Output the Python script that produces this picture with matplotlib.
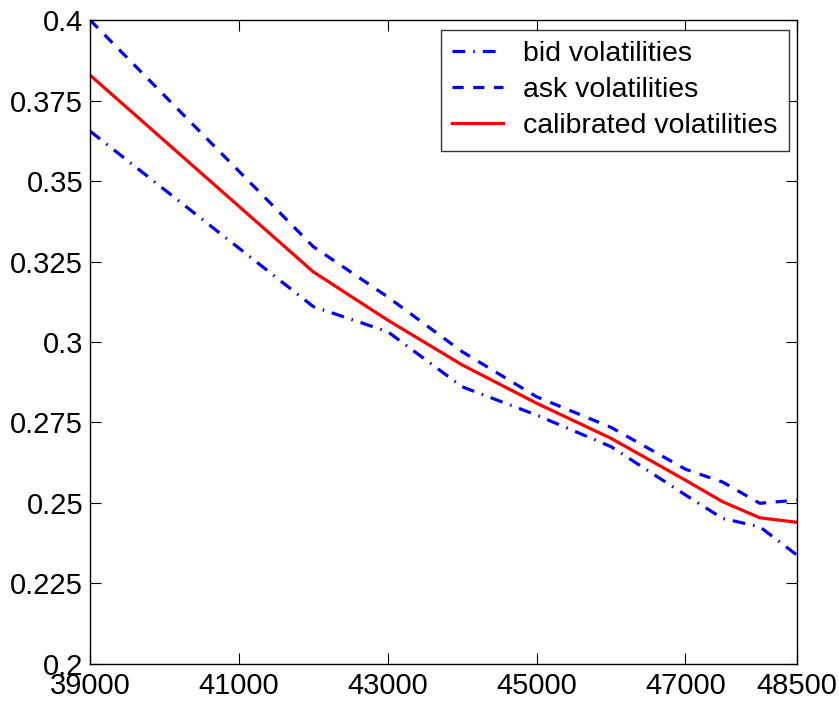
import numpy as np
import matplotlib.pyplot as plt

strike = [39000, 42000, 43000, 44000, 45000, 46000, 47000, 47500, 48000, 48500]
bid_vol = [0.3655, 0.311, 0.3032, 0.2861, 0.2773, 0.2675, 0.2525, 0.2452, 0.2426, 0.2338]
ask_vol = [0.400, 0.3296, 0.314, 0.297, 0.283, 0.2735, 0.2605, 0.2565, 0.2499, 0.2509]
cal_vol = [0.3829, 0.3218, 0.3068, 0.2929, 0.281, 0.2701, 0.2571, 0.2504, 0.2454, 0.244]

xticks = [39000, 41000, 43000, 45000, 47000, 48500]
yticks = [0.2, 0.225, 0.25, 0.275, 0.3, 0.325, 0.35, 0.375, 0.4]
ylabels = ['0.2', '0.225', '0.25', '0.275', '0.3', '0.325', '0.35', '0.375', '0.4']

plt.rcParams['font.family'] = ['Liberation Sans', 'DejaVu Sans']

fig = plt.figure(figsize=(8.39, 7.05), dpi=100)
ax = fig.add_axes([0.1073, 0.0582, 0.8427, 0.9134])

ax.plot(strike, bid_vol, color='#0000ff', lw=2.3, linestyle=(0, (4, 2.5, 0.5, 2.5)), label='bid volatilities')
ax.plot(strike, ask_vol, color='#0000ff', lw=2.3, linestyle=(0, (3.5, 3)), label='ask volatilities')
ax.plot(strike, cal_vol, color='#ff0000', lw=2.3, label='calibrated volatilities')

ax.set_xlim(39000, 48500)
ax.set_ylim(0.2, 0.4)
ax.set_xticks(xticks)
ax.set_xticklabels([str(t) for t in xticks])
ax.set_yticks(yticks)
ax.set_yticklabels(ylabels)
ax.tick_params(direction='in', length=8, width=0.8, top=True, right=True, labelsize=21)
ax.tick_params(axis='x', pad=6)
ax.tick_params(axis='y', pad=5)
for s in ax.spines.values():
    s.set_linewidth(1.0)

leg = ax.legend(loc='upper right', fontsize=20.5, frameon=True, fancybox=False, edgecolor='black',
                handlelength=1.8, handletextpad=0.7, borderpad=0.4, labelspacing=0.35,
                borderaxespad=0, bbox_to_anchor=(0.9887, 0.9845))
leg.get_frame().set_linewidth(1.0)

fig.savefig('out.png', dpi=100)
